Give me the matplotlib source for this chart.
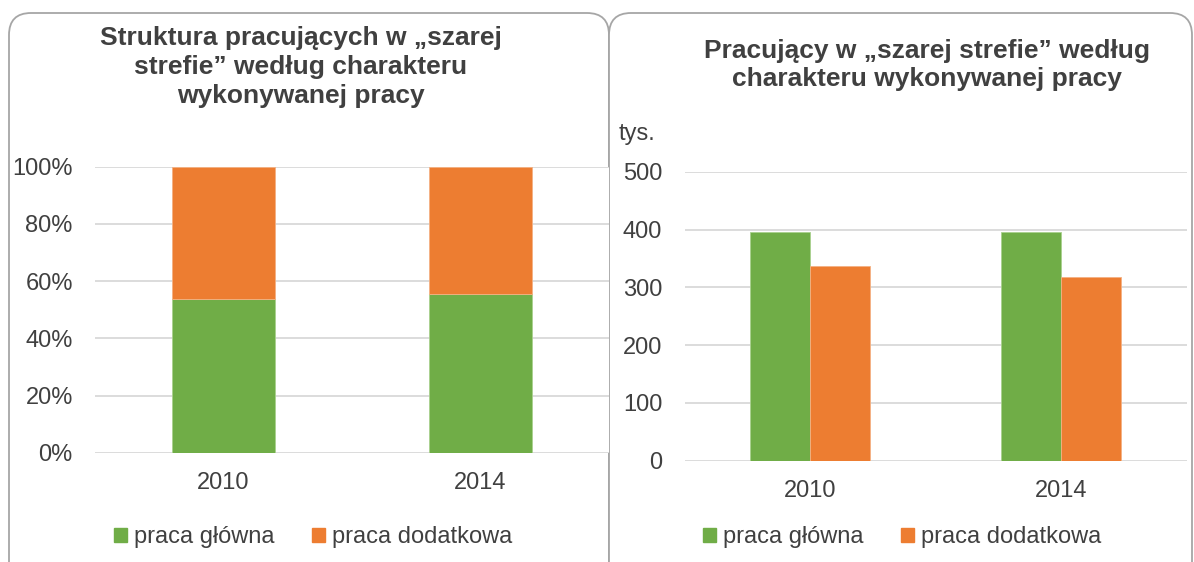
import matplotlib.pyplot as plt
from matplotlib.patches import FancyBboxPatch, Patch

plt.rcParams['font.family'] = ['Liberation Sans', 'DejaVu Sans']

# Data
years = ['2010', '2014']
share_main = [53.9, 55.6]              # % praca główna
share_extra = [100 - v for v in share_main]
count_main = [395, 396]                # tys.
count_extra = [337, 317]
series_labels = ['praca główna', 'praca dodatkowa']

GREEN = '#70AD47'
ORANGE = '#ED7D31'
TEXT = '#404040'
GRID = '#D9D9D9'
FS = 17

W, H = 1194, 562
fig = plt.figure(figsize=(W / 100, H / 100), dpi=100)


def px_axes(x0, y0, x1, y1):
    # pixel box (top-left origin) -> figure axes
    return fig.add_axes([x0 / W, 1 - y1 / H, (x1 - x0) / W, (y1 - y0) / H])


# Background frames
bg = fig.add_axes([0, 0, 1, 1])
bg.set_xlim(0, W)
bg.set_ylim(H, 0)
bg.axis('off')
for x0, x1 in [(9, 609), (609, 1192)]:
    box = FancyBboxPatch((x0 + 20, 33), x1 - x0 - 40, 600, boxstyle='round,pad=20,rounding_size=22',
                         edgecolor='#A6A6A6', facecolor='white', lw=1.3, clip_on=False)
    bg.add_patch(box)

# Titles
fig.text(301 / W, 1 - 67 / H, 'Struktura pracujących w „szarej\nstrefie” według charakteru\nwykonywanej pracy',
         ha='center', va='center', fontsize=19, fontweight='bold', color=TEXT, linespacing=1.25)
fig.text(927 / W, 1 - 65 / H, 'Pracujący w „szarej strefie” według\ncharakteru wykonywanej pracy',
         ha='center', va='center', fontsize=19, fontweight='bold', color=TEXT, linespacing=1.25)


def style(ax):
    for s in ax.spines.values():
        s.set_visible(False)
    ax.grid(axis='y', color=GRID, lw=1.3)
    ax.set_axisbelow(True)
    ax.tick_params(length=0, labelsize=FS, labelcolor=TEXT)
    ax.tick_params(axis='y', pad=16)
    ax.tick_params(axis='x', pad=14)
    ax.set_xlim(-0.5, 1.5)


# Left: 100% stacked
ax1 = px_axes(95, 166.7, 609, 452.7)
style(ax1)
xs = range(len(years))
ax1.bar(xs, share_main, width=0.4, color=GREEN, edgecolor='#A9D18E', lw=0.6, label=series_labels[0])
ax1.bar(xs, share_extra, width=0.4, bottom=share_main, color=ORANGE, edgecolor='#F4B183', lw=0.6,
        label=series_labels[1])
ax1.set_ylim(0, 100)
ax1.set_yticks(range(0, 101, 20))
ax1.set_yticklabels([f'{v}%' for v in range(0, 101, 20)])
ax1.set_xticks(list(xs))
ax1.set_xticklabels(years)

# Right: clustered
ax2 = px_axes(684.5, 171.7, 1186.5, 460.7)
style(ax2)
bw = 0.239
ax2.bar([x - bw / 2 for x in xs], count_main, width=bw, color=GREEN, edgecolor='#A9D18E', lw=0.6)
ax2.bar([x + bw / 2 for x in xs], count_extra, width=bw, color=ORANGE, edgecolor='#F4B183', lw=0.6)
ax2.set_ylim(0, 500)
ax2.set_yticks(range(0, 501, 100))
ax2.set_xticks(list(xs))
ax2.set_xticklabels(years)
fig.text(637 / W, 1 - 134 / H, 'tys.', ha='center', va='center', fontsize=FS, color=TEXT)

# Legends
handles = [Patch(color=GREEN), Patch(color=ORANGE)]
for cx in [313 / W, 902 / W]:
    fig.legend(handles, series_labels, loc='center', bbox_to_anchor=(cx, 1 - 537 / H), ncol=2,
               frameon=False, fontsize=FS, labelcolor=TEXT, handlelength=0.55, handleheight=0.55,
               handletextpad=0.3, columnspacing=1.6)

fig.savefig('out.png', dpi=100)
